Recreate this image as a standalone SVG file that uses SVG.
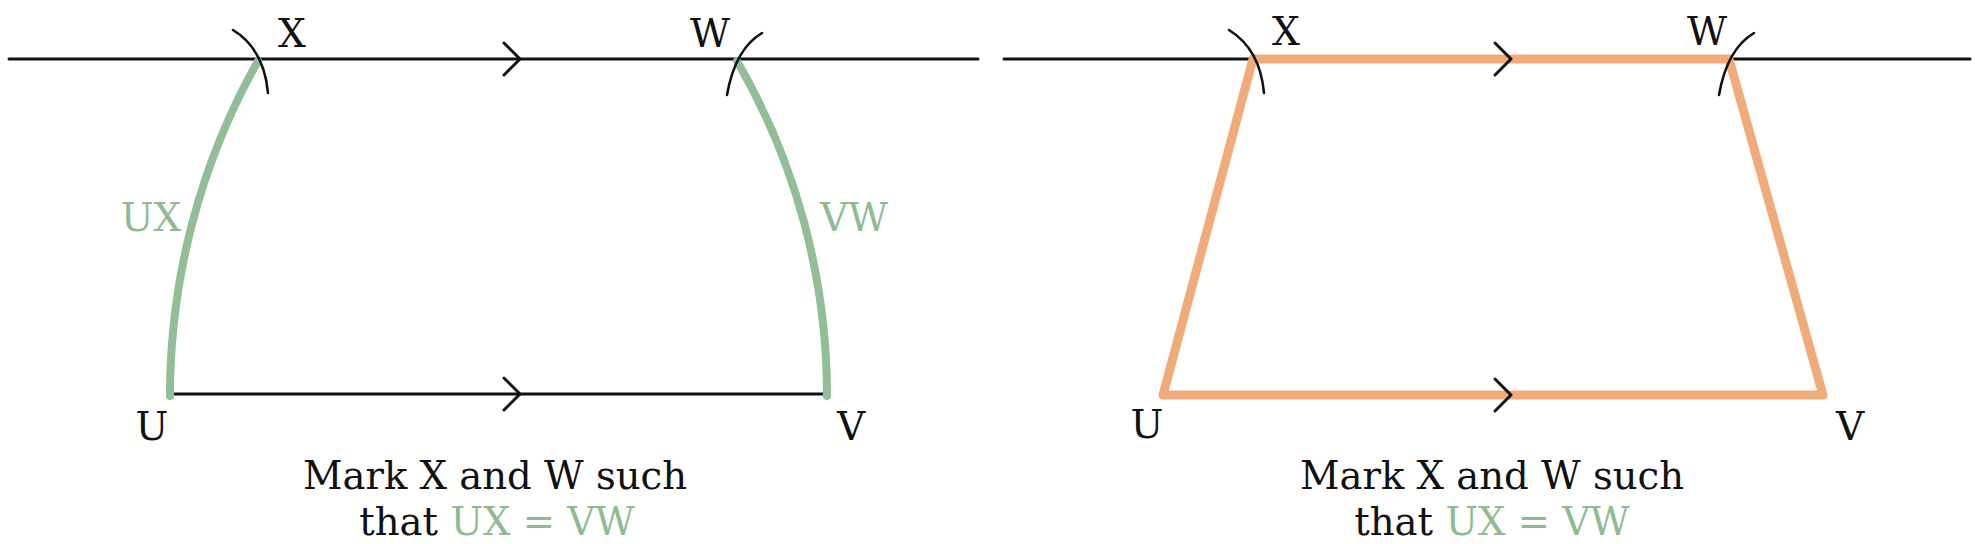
<svg xmlns="http://www.w3.org/2000/svg" width="1975" height="544" viewBox="0 0 1975 544">
<style>
.bg{fill:#ffffff}
.ln{stroke:#111111;stroke-width:3;fill:none;stroke-linecap:round;stroke-linejoin:round}
.cmp{stroke:#111111;stroke-width:2.6;fill:none;stroke-linecap:round}
.grn{stroke:#93bd96;stroke-width:8;fill:none;stroke-linecap:round}
.org{stroke:#f0ab7a;stroke-width:9;fill:none;stroke-linecap:round;stroke-linejoin:round}
.lbl{font-family:"DejaVu Serif","Liberation Serif",serif;font-size:39px;fill:#111111;text-anchor:middle}
.cap{font-family:"DejaVu Serif","Liberation Serif",serif;font-size:38.6px;fill:#111111;text-anchor:middle}
.g{fill:#8fbb93}
</style>
<rect class="bg" x="0" y="0" width="1975" height="544"/>
<g id="connectors">
  <line class="ln" x1="9" y1="59" x2="978" y2="59"/>
  <line class="ln" x1="172" y1="394" x2="827" y2="394"/>
  <path class="ln" d="M504,43 L520,59 L504,75"/>
  <path class="ln" d="M504,378 L520,394 L504,410"/>
  <path class="grn" d="M170,396 A681,681 0 0 1 258,61"/>
  <path class="grn" d="M827,396 A668,668 0 0 0 737,61"/>
  <path class="cmp" d="M233,30 Q264,49 268,93"/>
  <path class="cmp" d="M762,33 Q735,49 727,95"/>
  <line class="ln" x1="1004" y1="59" x2="1970" y2="59"/>
  <path class="org" d="M1253,59 L1729,59 L1823,395 L1163,395 Z"/>
  <path class="ln" d="M1495,43 L1511,59 L1495,75"/>
  <path class="ln" d="M1495,379 L1511,395 L1495,411"/>
  <path class="cmp" d="M1229,30 Q1260,49 1264,93"/>
  <path class="cmp" d="M1754,33 Q1727,49 1719,95"/>
</g>
<g id="left-X"><text class="lbl" x="292" y="47">X</text></g>
<g id="left-W"><text class="lbl" x="710" y="47">W</text></g>
<g id="left-U"><text class="lbl" x="152" y="440">U</text></g>
<g id="left-V"><text class="lbl" x="851" y="440">V</text></g>
<g id="left-UX"><text class="lbl g" x="151" y="231">UX</text></g>
<g id="left-VW"><text class="lbl g" x="854" y="231">VW</text></g>
<g id="left-caption">
  <text class="cap" x="495" y="489">Mark X and W such</text>
  <text class="cap" x="497" y="535">that <tspan class="g">UX = VW</tspan></text>
</g>
<g id="right-X"><text class="lbl" x="1286" y="45">X</text></g>
<g id="right-W"><text class="lbl" x="1707" y="45">W</text></g>
<g id="right-U"><text class="lbl" x="1147" y="438">U</text></g>
<g id="right-V"><text class="lbl" x="1850" y="440">V</text></g>
<g id="right-caption">
  <text class="cap" x="1492" y="489">Mark X and W such</text>
  <text class="cap" x="1492" y="535">that <tspan class="g">UX = VW</tspan></text>
</g>
</svg>
